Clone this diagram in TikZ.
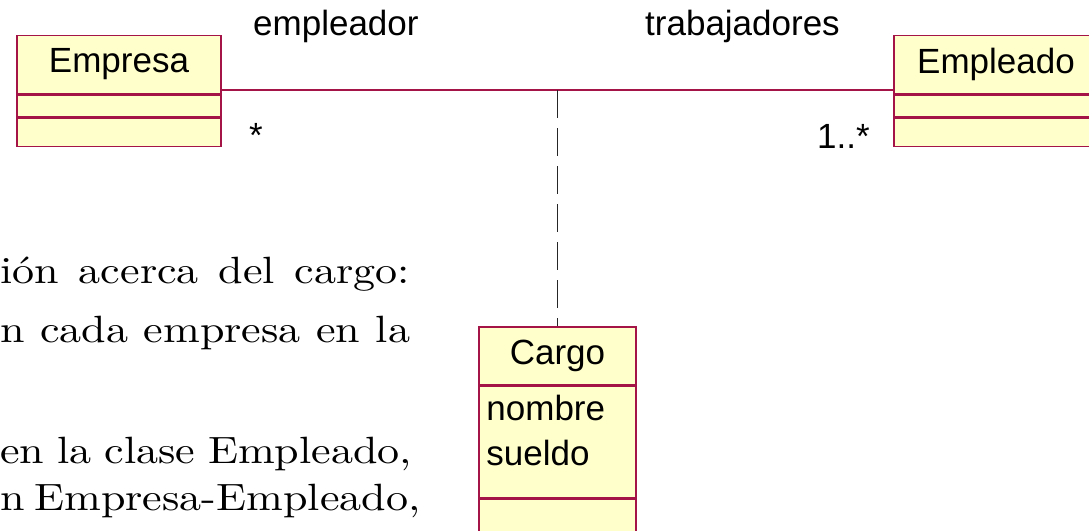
\documentclass[tikz,border=0pt]{standalone}
\usepackage{fontspec}
\newfontfamily\umlfont{Liberation Sans}
\newfontfamily\parafont[FakeStretch=1.16]{lmroman10-regular.otf}
\usepackage{tikz}
\usetikzlibrary{positioning}
\definecolor{umlred}{RGB}{165,20,70}
\definecolor{umlfill}{RGB}{255,255,204}

\begin{document}
\begin{tikzpicture}[
    x=1pt, y=-1pt,
    umltext/.style={font=\umlfont\fontsize{35}{40}\selectfont},
    classhead/.style={rectangle, draw=umlred, fill=umlfill, line width=1.5pt, minimum width=204pt, minimum height=58pt, inner sep=0pt, umltext},
    classpart/.style={rectangle, draw=umlred, fill=umlfill, line width=1.5pt, minimum width=204pt, inner sep=0pt},
    role/.style={inner sep=0pt, anchor=base west, umltext},
    assoc/.style={draw=umlred, line width=1.6pt},
    linkline/.style={draw=black!85, line width=1.5pt, dash pattern=on 28pt off 10pt},
    para/.style={inner sep=0pt, anchor=base west, font=\parafont\fontsize{38}{46}\selectfont}
]
    \useasboundingbox (0,0) rectangle (1089,530);
    \clip (0,0) rectangle (1089,530);

    % Text beside the diagram
    \node[para] (parA) at (0,283) {\makebox[410pt][s]{ión acerca del cargo:}};
    \node[para] (parB) at (0,342) {\makebox[410pt][s]{n cada empresa en la}};
    \node[para] (parC) at (0,463) {\makebox[412pt][s]{en la clase Empleado,}};
    \node[para] (parD) at (0,510) {\makebox[412pt][s]{n Empresa-Empleado,}};

    % Left: Empresa
    \node[classhead] (empresa) at (119,64.5) {Empresa};
    \node[classpart, minimum height=22pt, below=0pt of empresa] (empresaAttr) {};
    \node[classpart, minimum height=28pt, below=0pt of empresaAttr] (empresaOps) {};

    % Right: Empleado
    \node[classhead] (empleado) at (996,64.5) {Empleado};
    \node[classpart, minimum height=22pt, below=0pt of empleado] (empleadoAttr) {};
    \node[classpart, minimum height=28pt, below=0pt of empleadoAttr] (empleadoOps) {};

    % Association class: Cargo
    \node[classhead, minimum width=157pt] (cargo) at (557.5,356) {Cargo};
    \node[classpart, minimum width=157pt, minimum height=111pt, below=0pt of cargo] (cargoAttr) {};
    \node[classpart, minimum width=157pt, minimum height=40pt, below=0pt of cargoAttr] (cargoOps) {};
    \node[role] (cargoNombre) at ([xshift=8pt,yshift=-35pt]cargoAttr.north west) {nombre};
    \node[role] (cargoSueldo) at ([xshift=8pt,yshift=-80pt]cargoAttr.north west) {sueldo};

    % Association
    \draw[assoc] ([yshift=4pt]empresa.south east) -- coordinate[pos=0.5] (assocMid) ([yshift=4pt]empleado.south west);
    \draw[linkline] (assocMid) -- (cargo.north);

    % Roles and multiplicities
    \node[role] (roleEmpleador) at (253,35) {empleador};
    \node[role] (roleTrabajadores) at (645,35) {trabajadores};
    \node[role] (multEmpresa) at (249,147) {*};
    \node[role] (multEmpleado) at (817,148) {1..*};
\end{tikzpicture}
\end{document}
